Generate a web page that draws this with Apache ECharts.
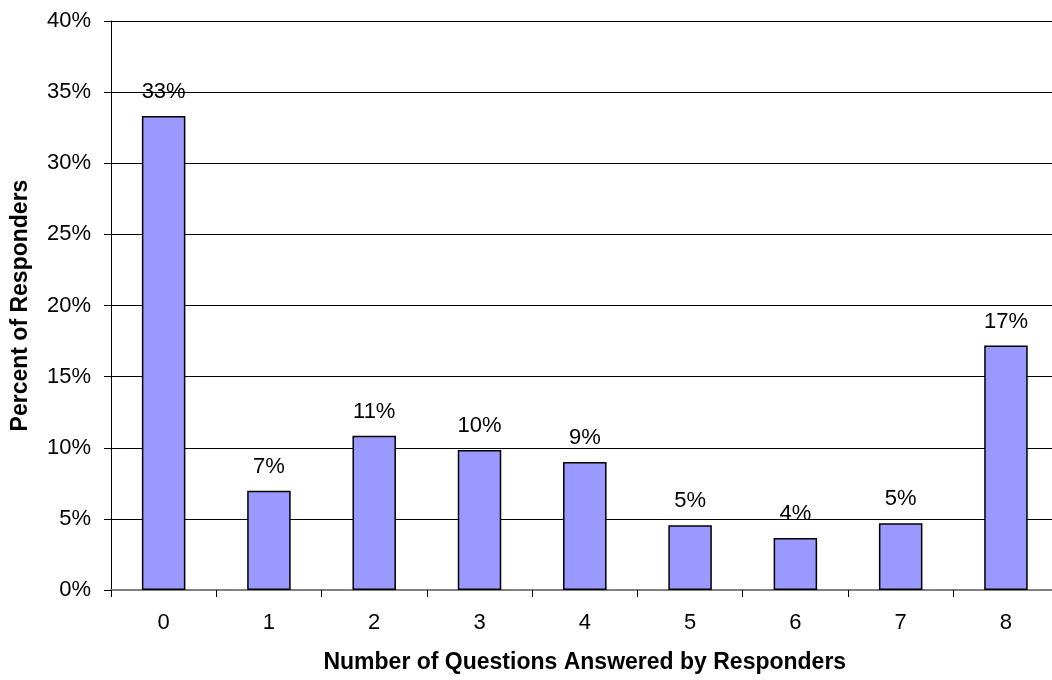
<!DOCTYPE html>
<html>
<head>
<meta charset="utf-8">
<script src="https://cdn.jsdelivr.net/npm/echarts@6/dist/echarts.min.js"></script>
<style>
  html, body { margin: 0; padding: 0; background: #fff; }
  #chart { width: 1052px; height: 680px; }
</style>
</head>
<body>
<div id="chart"></div>
<script>
// Share of responders by number of questions answered
const categories = ['0', '1', '2', '3', '4', '5', '6', '7', '8'];
const percentValues = [33.33, 6.98, 10.85, 9.85, 9.0, 4.55, 3.66, 4.69, 17.18];
const yTicks = [0, 5, 10, 15, 20, 25, 30, 35, 40];

const font = 'Arial, "Liberation Sans", sans-serif';
const chart = echarts.init(document.getElementById('chart'), null, { renderer: 'canvas' });

chart.setOption({
  animation: false,
  backgroundColor: '#ffffff',
  grid: {
    left: 111, top: 21, width: 947.6, height: 569,
    containLabel: false,
    outerBoundsMode: 'none'
  },
  xAxis: {
    type: 'category',
    data: categories,
    name: 'Number of Questions Answered by Responders',
    nameLocation: 'middle',
    nameGap: 61,
    nameTextStyle: { fontFamily: font, fontSize: 23, fontWeight: 'bold', color: '#000' },
    axisLine: { lineStyle: { color: '#808080', width: 2 } },
    axisTick: { show: true, length: 7, lineStyle: { color: '#000', width: 1 } },
    axisLabel: { fontFamily: font, fontSize: 22, color: '#000', margin: 22 },
    splitLine: { show: false }
  },
  yAxis: {
    type: 'value',
    min: yTicks[0],
    max: yTicks[yTicks.length - 1],
    interval: 5,
    name: 'Percent of Responders',
    nameLocation: 'middle',
    nameGap: 79,
    nameTextStyle: { fontFamily: font, fontSize: 23, fontWeight: 'bold', color: '#000' },
    axisLine: { show: true, lineStyle: { color: '#000', width: 1 } },
    axisTick: { show: true, length: 7, lineStyle: { color: '#000', width: 1 } },
    axisLabel: { fontFamily: font, fontSize: 22, color: '#000', margin: 20, formatter: v => v + '%' },
    splitLine: { show: true, lineStyle: { color: '#000', width: 1 } }
  },
  series: [{
    type: 'bar',
    data: percentValues,
    barWidth: 43.5,
    itemStyle: { color: '#9999FF', borderColor: '#000', borderWidth: 1.5 },
    label: {
      show: true,
      position: 'top',
      distance: 13,
      fontFamily: font,
      fontSize: 22,
      color: '#000',
      formatter: p => Math.round(p.value) + '%'
    }
  }]
});
</script>
</body>
</html>
